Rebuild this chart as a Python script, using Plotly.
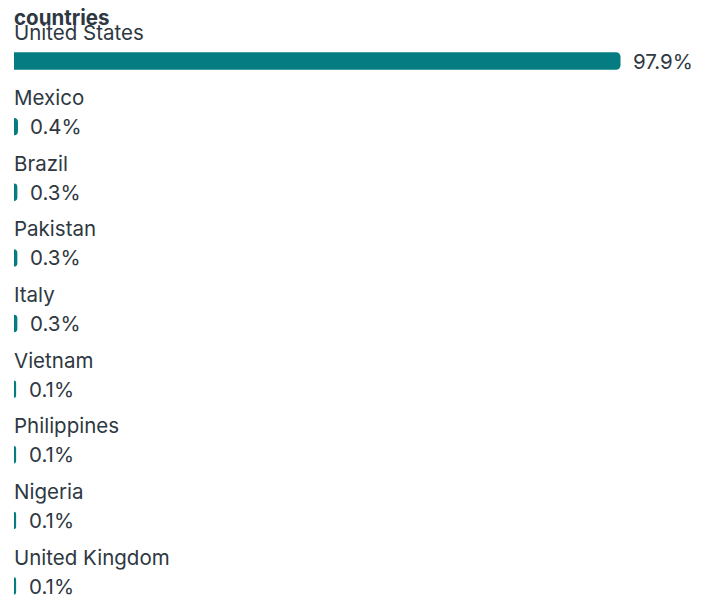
import plotly.graph_objects as go

countries = ["United States", "Mexico", "Brazil", "Pakistan", "Italy",
             "Vietnam", "Philippines", "Nigeria", "United Kingdom"]
shares = [97.9, 0.4, 0.3, 0.3, 0.3, 0.1, 0.1, 0.1, 0.1]

teal = "#047c81"
ink = "#2e3842"
font = "Inter, Roboto, sans-serif"
fsize = 20.5

fig = go.Figure(go.Bar(
    x=shares, y=countries, orientation="h",
    marker=dict(color=teal, line=dict(color=teal, width=3), cornerradius=3),
    width=0.22, hoverinfo="skip",
))

for c, s in zip(countries, shares):
    # country name above each bar
    fig.add_annotation(x=0, y=c, text=c, showarrow=False, xref="x", yref="y",
                       xanchor="left", yanchor="middle", yshift=29, xshift=-2,
                       font=dict(size=fsize, color=ink, family=font))
    # percentage to the right of the bar end
    fig.add_annotation(x=s, y=c, text=f"{s:.1f}%", showarrow=False,
                       xanchor="left", yanchor="middle", xshift=12,
                       font=dict(size=fsize, color=ink, family=font))

# page body adds an 8px offset, so the figure is 8px smaller on each side
fig.update_layout(
    width=701, height=589,
    margin=dict(l=6, r=77, t=0, b=0),
    paper_bgcolor="white", plot_bgcolor="white",
    showlegend=False,
    title=dict(text="<b>countries</b>", x=6 / 701, xanchor="left",
               y=1 - 10 / 589, yanchor="middle", yref="container",
               font=dict(size=fsize, color=ink, family=font)),
    xaxis=dict(range=[0, 100], visible=False, fixedrange=True),
    yaxis=dict(range=[8.1676, -0.8076], visible=False, fixedrange=True),
)

fig.write_html("out.html")
